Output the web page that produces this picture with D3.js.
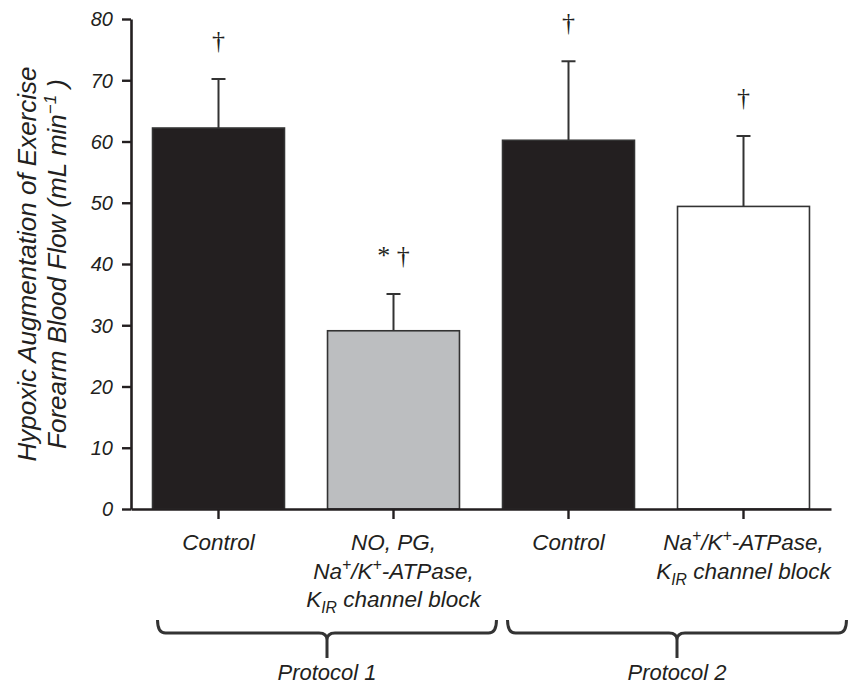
<!DOCTYPE html>
<html>
<head>
<meta charset="utf-8">
<script src="https://cdn.jsdelivr.net/npm/d3@7"></script>
<style>
  body { margin: 0; background: #fff; }
  text { font-family: "Liberation Sans", Arial, sans-serif; font-style: italic; fill: #231f20; }
  .mark { font-family: "Liberation Serif", "Times New Roman", serif; font-style: normal; }
</style>
</head>
<body>
<div id="chart"></div>
<script>
// chart data
var categories = ["Control P1", "NO PG NaK KIR block", "Control P2", "NaK KIR block"];
var means = [62.2, 29.1, 60.2, 49.4];
var sems = [8.0, 6.0, 12.9, 11.5];
var marks = ["\u2020", "* \u2020", "\u2020", "\u2020"];
// {..} superscript, [..] subscript
var labelLines = [
    ["Control"],
    ["NO, PG,", "Na{+}/K{+}-ATPase,", "K[IR] channel block"],
    ["Control"],
    ["Na{+}/K{+}-ATPase,", "K[IR] channel block"]
];
var protocols = ["Protocol 1", "Protocol 2"];
var protocolMembers = [[0, 1], [2, 3]];
var yTicks = [0, 10, 20, 30, 40, 50, 60, 70, 80];

var svgWidth = 851;
var svgHeight = 686;
var ink = "#231f20";

var svg = d3.select("#chart")
    .append("svg")
    .attr("width", svgWidth)
    .attr("height", svgHeight);

// scales
var x = d3.scaleBand()
    .domain(categories)
    .range([131, 831])
    .paddingInner(0.246)
    .paddingOuter(0.123);

var y = d3.scaleLinear()
    .domain([0, 80])
    .range([509, 19]);

var fill = d3.scaleOrdinal()
    .domain(categories)
    .range(["#231f20", "#bcbec0", "#231f20", "#ffffff"]);

// bars
svg.append("g")
    .selectAll("rect")
    .data(categories)
    .enter()
    .append("rect")
    .attr("x", d => x(d))
    .attr("y", (d, i) => y(means[i]))
    .attr("width", x.bandwidth())
    .attr("height", (d, i) => y(0) - y(means[i]))
    .attr("fill", d => fill(d))
    .attr("stroke", "#333")
    .attr("stroke-width", 1.6);

// error bars (upper only)
var errG = svg.append("g")
    .attr("stroke", "#333")
    .attr("stroke-width", 2)
    .attr("fill", "none");

categories.forEach(function(c, i) {
    var cx = x(c) + x.bandwidth() / 2;
    var top = y(means[i] + sems[i]);
    errG.append("line")
        .attr("x1", cx).attr("x2", cx)
        .attr("y1", y(means[i])).attr("y2", top);
    errG.append("line")
        .attr("x1", cx - 7).attr("x2", cx + 7)
        .attr("y1", top).attr("y2", top);
    svg.append("text")
        .attr("class", "mark")
        .attr("x", cx)
        .attr("y", top - 30)
        .attr("text-anchor", "middle")
        .attr("font-size", 26)
        .text(marks[i]);
});

// y axis
var yAxis = svg.append("g")
    .attr("transform", "translate(131,0)")
    .call(d3.axisLeft(y).tickValues(yTicks).tickSize(9).tickSizeOuter(0).tickPadding(9));
yAxis.select(".domain").attr("stroke", ink).attr("stroke-width", 2.6);
yAxis.selectAll(".tick line").attr("stroke", ink).attr("stroke-width", 2.4);
yAxis.selectAll(".tick text")
    .attr("font-family", null)
    .attr("font-size", 20)
    .attr("fill", ink)
    .attr("dy", "0.34em");

// x axis
var xAxis = svg.append("g")
    .attr("transform", "translate(0,509)")
    .call(d3.axisBottom(x).tickSize(10).tickSizeOuter(0).tickFormat(""));
xAxis.select(".domain").attr("stroke", ink).attr("stroke-width", 2.6);
xAxis.selectAll(".tick line").attr("stroke", ink).attr("stroke-width", 2.4);

// rich text helper
function addRich(t, str) {
    var parts = str.split(/(\{[^}]*\}|\[[^\]]*\])/);
    var shift = 0;
    parts.forEach(function(p) {
        if (!p) return;
        var ts = t.append("tspan");
        if (p[0] === "{") {
            ts.attr("dy", -9 - shift).attr("font-size", "70%").text(p.slice(1, -1));
            shift = -9;
        } else if (p[0] === "[") {
            ts.attr("dy", 6 - shift).attr("font-size", "70%").text(p.slice(1, -1));
            shift = 6;
        } else {
            ts.attr("dy", -shift).text(p);
            shift = 0;
        }
    });
}

// category labels
categories.forEach(function(c, i) {
    var cx = x(c) + x.bandwidth() / 2;
    labelLines[i].forEach(function(line, j) {
        var t = svg.append("text")
            .attr("x", cx)
            .attr("y", 550 + j * 28.5)
            .attr("text-anchor", "middle")
            .attr("font-size", 22.5);
        addRich(t, line);
    });
});

// protocol brackets
protocols.forEach(function(p, k) {
    var members = protocolMembers[k];
    var x0 = x(categories[members[0]]) + 5;
    var x1 = x(categories[members[members.length - 1]]) + x.bandwidth() + 37;
    var cx = (x0 + x1) / 2;
    var yt = 620, yh = 633, yb = 658;
    var path = d3.path();
    path.moveTo(x0, yt);
    path.quadraticCurveTo(x0, yh, x0 + 8, yh);
    path.lineTo(cx - 8, yh);
    path.quadraticCurveTo(cx, yh, cx, yh + 7);
    path.quadraticCurveTo(cx, yh, cx + 8, yh);
    path.lineTo(x1 - 8, yh);
    path.quadraticCurveTo(x1, yh, x1, yt);
    path.moveTo(cx, yh + 7);
    path.lineTo(cx, yb);
    svg.append("path")
        .attr("d", path.toString())
        .attr("fill", "none")
        .attr("stroke", "#333")
        .attr("stroke-width", 3);
    svg.append("text")
        .attr("x", cx)
        .attr("y", 680)
        .attr("text-anchor", "middle")
        .attr("font-size", 22)
        .text(p);
});

// y axis title
var title = svg.append("g")
    .attr("transform", "translate(0,264) rotate(-90)");
title.append("text")
    .attr("x", 0)
    .attr("y", 36)
    .attr("text-anchor", "middle")
    .attr("font-size", 26)
    .text("Hypoxic Augmentation of Exercise");
var t2 = title.append("text")
    .attr("x", 0)
    .attr("y", 66)
    .attr("text-anchor", "middle")
    .attr("font-size", 26);
t2.append("tspan").text("Forearm Blood Flow (mL min");
t2.append("tspan").attr("dy", -10).attr("font-size", "65%").text("\u22121");
t2.append("tspan").attr("dy", 10).text(" )");
</script>
</body>
</html>
